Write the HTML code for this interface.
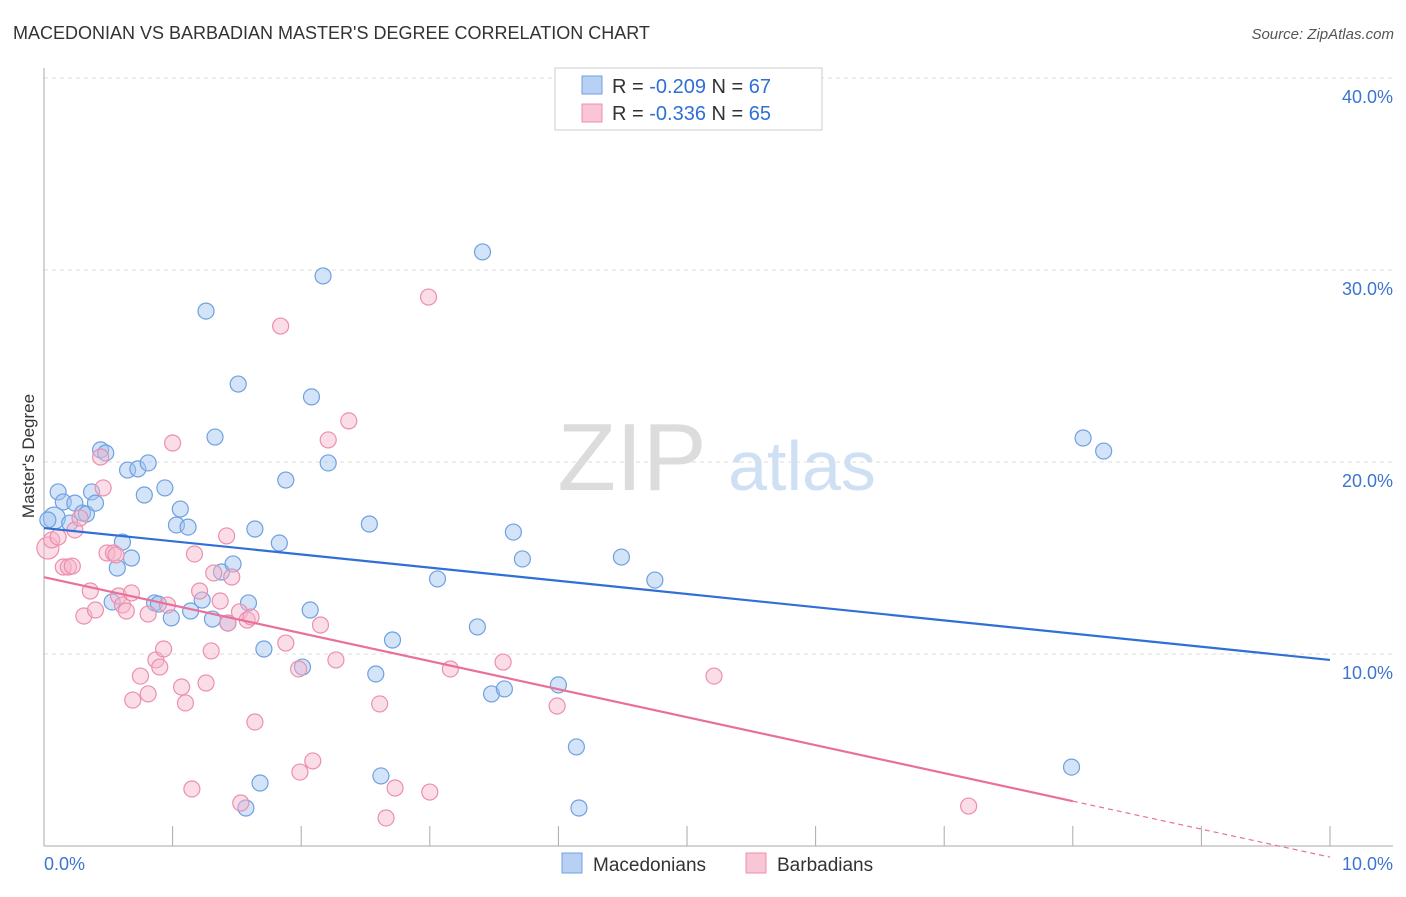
<!DOCTYPE html>
<html><head><meta charset="utf-8">
<style>
body{margin:0;background:#fff;font-family:"Liberation Sans",sans-serif;}
svg text{font-family:"Liberation Sans",sans-serif;}
</style></head>
<body>
<svg id="chart" width="1406" height="892" viewBox="0 0 1406 892" xmlns="http://www.w3.org/2000/svg">
<text x="13" y="39" font-size="18" fill="#333">MACEDONIAN VS BARBADIAN MASTER'S DEGREE CORRELATION CHART</text>
<text x="1394" y="39" font-size="15" fill="#555" text-anchor="end" font-style="italic">Source: ZipAtlas.com</text>
<g>
<text x="632" y="490" font-size="96" font-family="Liberation Serif" fill="#dcdcdc" text-anchor="middle">ZIP</text>
<text x="802" y="490" font-size="70" fill="#cfe0f4" text-anchor="middle">atlas</text>
</g>
<g id="grid"></g>
<g id="axes"></g>
<g id="marks"></g>
<text transform="translate(34,456) rotate(-90)" font-size="17" fill="#333" text-anchor="middle">Master's Degree</text>
<g>
<rect x="555" y="68" width="267" height="62" fill="#fff" stroke="#ccc"/>
<rect x="582" y="76" width="20" height="18" fill="#b7d0f3" stroke="#6fa0e0"/>
<rect x="582" y="104" width="20" height="18" fill="#f9c6d5" stroke="#ec8fae"/>
<text x="612" y="93" font-size="20" fill="#333">R = <tspan fill="#2f6fd6">-0.209</tspan>   N = <tspan fill="#2f6fd6">67</tspan></text>
<text x="612" y="120" font-size="20" fill="#333">R = <tspan fill="#2f6fd6">-0.336</tspan>   N = <tspan fill="#2f6fd6">65</tspan></text>
</g>
<g>
<rect x="562" y="853" width="20" height="20" fill="#b7d0f3" stroke="#6fa0e0"/>
<text x="593" y="871" font-size="19" fill="#333">Macedonians</text>
<rect x="746" y="853" width="20" height="20" fill="#f9c6d5" stroke="#ec8fae"/>
<text x="777" y="871" font-size="19" fill="#333">Barbadians</text>
</g>
</svg>
<script>
const blueX=[0.08,0.11,0.15,0.20,0.24,0.30,0.33,0.37,0.40,0.44,0.48,0.57,0.53,0.61,0.65,0.68,0.73,0.78,0.81,0.86,0.89,0.94,0.99,1.03,1.06,1.12,1.14,1.23,1.26,1.31,1.33,1.38,1.43,1.47,1.51,1.59,1.57,1.64,1.68,1.71,1.83,1.88,2.01,2.07,2.08,2.17,2.21,2.53,2.58,2.62,2.71,3.06,3.37,3.41,3.48,3.58,3.65,3.72,4.00,4.14,4.16,4.49,4.75,7.99,8.08,8.24,0.03];
const blueY=[17.08,18.44,17.92,16.82,17.86,17.34,17.29,18.44,17.86,20.63,20.47,14.48,12.71,15.83,19.58,15.0,19.64,18.28,19.95,12.66,12.60,18.65,11.88,16.72,17.55,16.61,12.24,12.81,27.86,11.82,21.30,14.27,11.61,14.69,24.06,12.66,1.98,16.51,3.28,10.26,15.78,19.06,9.32,12.29,23.39,29.69,19.95,16.77,8.96,3.65,10.73,13.91,11.41,30.94,7.92,8.18,16.35,14.95,8.39,5.16,1.98,15.05,13.85,4.11,21.25,20.57,16.98];
const pinkX=[0.03,0.06,0.11,0.15,0.19,0.22,0.24,0.28,0.31,0.36,0.40,0.44,0.46,0.49,0.54,0.56,0.58,0.61,0.64,0.68,0.69,0.75,0.81,0.81,0.87,0.90,0.93,0.96,1.00,1.07,1.10,1.15,1.17,1.21,1.26,1.30,1.32,1.37,1.42,1.43,1.46,1.52,1.53,1.58,1.61,1.64,1.84,1.88,1.98,1.99,2.09,2.15,2.21,2.27,2.37,2.61,2.66,2.73,2.99,3.00,3.16,3.57,3.99,5.21,7.19];
const pinkY=[15.52,15.94,16.09,14.53,14.53,14.58,16.46,17.08,11.98,13.28,12.29,20.26,18.65,15.26,15.26,15.16,13.02,12.55,12.24,13.18,7.60,8.85,12.08,7.92,9.69,9.32,10.26,12.55,20.99,8.28,7.45,2.97,15.21,13.28,8.49,10.16,14.22,12.76,16.15,11.61,14.01,12.19,2.24,11.77,11.93,6.46,27.08,10.57,9.22,3.85,4.43,11.51,21.15,9.69,22.14,7.40,1.46,3.02,28.59,2.81,9.22,9.58,7.29,8.85,2.08];
const blueTrend=[16.56,9.69];
const pinkTrend=[14.0,-0.58];
const yTicks=[10,20,30,40];
const yTickLabels=["10.0%","20.0%","30.0%","40.0%"];
const xTicks=[0,1,2,3,4,5,6,7,8,9,10];

const NS="http://www.w3.org/2000/svg";
const X=v=>44+v*128.6;
const Y=v=>846-v*19.2;
function mk(tag,attrs,parent){const e=document.createElementNS(NS,tag);for(const k in attrs)e.setAttribute(k,attrs[k]);parent.appendChild(e);return e;}
const grid=document.getElementById('grid'),axes=document.getElementById('axes'),marks=document.getElementById('marks');
yTicks.forEach((t,i)=>{
  const l=mk('line',{x1:44,x2:1393,y1:Y(t),y2:Y(t),stroke:'#ddd','stroke-dasharray':'4,4'},grid);
  
  
  const tx=mk('text',{x:1393,y:Y(t)+25,'font-size':18,fill:'#3d74d0','text-anchor':'end'},axes);
  tx.textContent=yTickLabels[i];
  
  
});
const ya=mk('line',{x1:44,x2:44,y1:68,y2:846,stroke:'#aaa'},axes);


const xa=mk('line',{x1:44,x2:1393,y1:846,y2:846,stroke:'#aaa'},axes);


xTicks.forEach(t=>{
  const l=mk('line',{x1:X(t),x2:X(t),y1:826,y2:846,stroke:'#aaa'},axes);
  
  
});
const xl0=mk('text',{x:44,y:870,'font-size':18,fill:'#3d74d0'},axes);xl0.textContent="0.0%";


const xl1=mk('text',{x:1393,y:870,'font-size':18,fill:'#3d74d0','text-anchor':'end'},axes);xl1.textContent="10.0%";



blueX.forEach((x,i)=>{
  const c=mk('circle',{cx:X(x),cy:Y(blueY[i]),r:i===0?11:8,fill:'rgba(160,195,240,0.45)',stroke:'#6fa0e0','stroke-width':1.2},marks);
  
  
});
pinkX.forEach((x,i)=>{
  const c=mk('circle',{cx:X(x),cy:Y(pinkY[i]),r:i===0?11:8,fill:'rgba(246,180,202,0.45)',stroke:'#ec8fae','stroke-width':1.2},marks);
  
  
});
const bl=mk('line',{x1:X(0),y1:Y(blueTrend[0]),x2:X(10),y2:Y(blueTrend[1]),stroke:'#2f6fd6','stroke-width':2.2},marks);


const pm=v=>pinkTrend[0]+(pinkTrend[1]-pinkTrend[0])*v/10;
const pl=mk('line',{x1:X(0),y1:Y(pm(0)),x2:X(8),y2:Y(pm(8)),stroke:'#e8709a','stroke-width':2.2},marks);


const pd=mk('line',{x1:X(8),y1:Y(pm(8)),x2:X(10),y2:Y(pm(10)),stroke:'#e8709a','stroke-width':1.2,'stroke-dasharray':'5,4'},marks);


</script>
</body></html>
